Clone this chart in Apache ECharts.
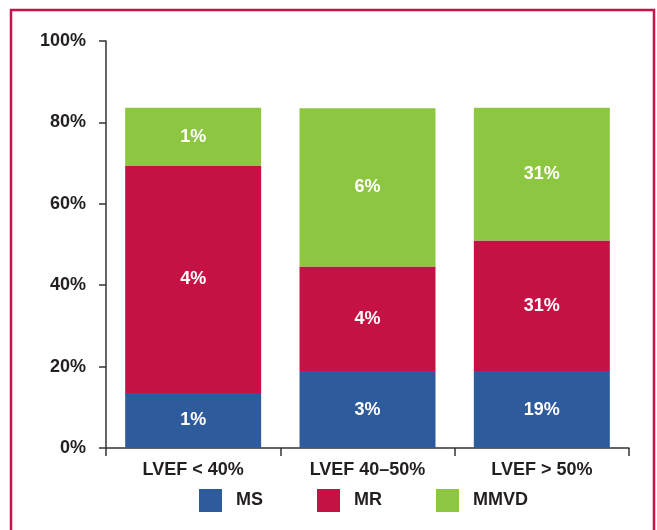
<!DOCTYPE html>
<html><head><meta charset="utf-8">
<script src="https://cdn.jsdelivr.net/npm/echarts@6/dist/echarts.min.js"></script>
<style>html,body{margin:0;padding:0;background:#fff}#c{width:657px;height:530px}</style>
</head><body><div id="c"></div>
<script>
const categories = ['LVEF < 40%', 'LVEF 40\u201350%', 'LVEF > 50%'];
const msHeights = [13.5, 18.9, 18.9];
const mrHeights = [55.9, 25.7, 32.1];
const mmvdHeights = [14.2, 38.9, 32.6];
const msLabels = ['1%', '3%', '19%'];
const mrLabels = ['4%', '4%', '31%'];
const mmvdLabels = ['1%', '6%', '31%'];
const yMin = 0, yMax = 100, yStep = 20;

const font = '"Liberation Sans", Arial, Helvetica, sans-serif';
const textColor = '#231f20';
function seg(name, heights, labels, color) {
  return {
    name: name, type: 'bar', stack: 'total', barWidth: '78%',
    data: heights,
    itemStyle: { color: color },
    label: {
      show: true, position: 'inside', color: '#fff',
      fontFamily: font, fontWeight: 'bold', fontSize: 18,
      formatter: p => labels[p.dataIndex]
    },
    emphasis: { disabled: true }
  };
}
const chart = echarts.init(document.getElementById('c'), null, { renderer: 'canvas' });
chart.setOption({
  animation: false,
  backgroundColor: '#fff',
  grid: { left: 106, right: 28, top: 41, bottom: 82, containLabel: false },
  legend: {
    left: 199, top: 489, padding: 0,
    itemWidth: 23, itemHeight: 23, itemGap: 54,
    icon: 'rect',
    textStyle: { fontFamily: font, fontWeight: 'bold', fontSize: 18, color: textColor, padding: [0, 0, 0, 9] },
    data: ['MS', 'MR', 'MMVD']
  },
  xAxis: {
    type: 'category', data: categories,
    axisLine: { lineStyle: { color: '#333', width: 1.5 } },
    axisTick: { show: true, length: 8, lineStyle: { color: '#333', width: 1.5 } },
    axisLabel: { fontFamily: font, fontWeight: 'bold', fontSize: 18, color: textColor, margin: 13 }
  },
  yAxis: {
    type: 'value', min: yMin, max: yMax, interval: yStep,
    axisLine: { show: true, lineStyle: { color: '#333', width: 1.5 } },
    axisTick: { show: true, length: 7, lineStyle: { color: '#333', width: 1.5 } },
    splitLine: { show: false },
    axisLabel: { fontFamily: font, fontWeight: 'bold', fontSize: 18, color: textColor, margin: 20, formatter: '{value}%' }
  },
  graphic: [{
    type: 'rect', shape: { x: 11, y: 10, width: 643, height: 600 },
    style: { fill: 'none', stroke: '#c8124a', lineWidth: 2.5 }, silent: true
  }],
  series: [
    seg('MS', msHeights, msLabels, '#2d5b9b'),
    seg('MR', mrHeights, mrLabels, '#c51144'),
    seg('MMVD', mmvdHeights, mmvdLabels, '#8dc641')
  ]
});
</script></body></html>
